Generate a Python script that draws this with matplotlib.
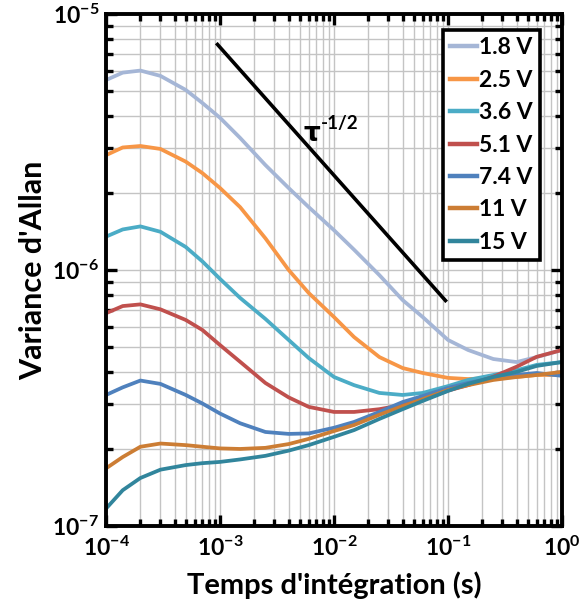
import matplotlib.pyplot as plt
from matplotlib.ticker import LogLocator, NullFormatter, FuncFormatter
import numpy as np

# Integrationstider (s)
tau = [1e-4, 1.4e-4, 2e-4, 3e-4, 5e-4, 7e-4, 1e-3, 1.5e-3, 2.5e-3, 4e-3, 6e-3,
       1e-2, 1.5e-2, 2.5e-2, 4e-2, 6e-2, 0.1, 0.15, 0.25, 0.4, 0.6, 1.0]

labels = ["1.8 V", "2.5 V", "3.6 V", "5.1 V", "7.4 V", "11 V", "15 V"]
colors = ["#a5b6d6", "#f79646", "#4bacc6", "#c0504d", "#4f81bd", "#cc7d34", "#31859c"]

# Allan-varians
v_1_8 = [5.52e-6, 5.90e-6, 6.01e-6, 5.73e-6, 5.05e-6, 4.49e-6, 3.93e-6, 3.28e-6, 2.57e-6, 2.09e-6, 1.76e-6,
         1.43e-6, 1.20e-6, 9.55e-7, 7.63e-7, 6.55e-7, 5.33e-7, 4.87e-7, 4.49e-7, 4.37e-7, 4.57e-7, 4.87e-7]
v_2_5 = [2.81e-6, 3.01e-6, 3.05e-6, 2.97e-6, 2.65e-6, 2.39e-6, 2.09e-6, 1.76e-6, 1.33e-6, 1.00e-6, 8.13e-7,
         6.55e-7, 5.47e-7, 4.57e-7, 4.14e-7, 3.96e-7, 3.79e-7, 3.75e-7, 3.79e-7, 3.82e-7, 3.89e-7, 3.89e-7]
v_3_6 = [1.35e-6, 1.44e-6, 1.48e-6, 1.41e-6, 1.23e-6, 1.08e-6, 9.23e-7, 7.78e-7, 6.44e-7, 5.33e-7, 4.53e-7,
         3.82e-7, 3.55e-7, 3.31e-7, 3.25e-7, 3.31e-7, 3.52e-7, 3.72e-7, 3.89e-7, 4.06e-7, 4.26e-7, 4.37e-7]
v_5_1 = [6.78e-7, 7.23e-7, 7.34e-7, 7.02e-7, 6.38e-7, 5.83e-7, 5.09e-7, 4.38e-7, 3.62e-7, 3.18e-7, 2.92e-7,
         2.79e-7, 2.79e-7, 2.86e-7, 2.97e-7, 3.11e-7, 3.38e-7, 3.55e-7, 3.83e-7, 4.19e-7, 4.58e-7, 4.87e-7]
v_7_4 = [3.25e-7, 3.48e-7, 3.70e-7, 3.59e-7, 3.25e-7, 3.01e-7, 2.75e-7, 2.52e-7, 2.33e-7, 2.29e-7, 2.30e-7,
         2.42e-7, 2.55e-7, 2.79e-7, 3.05e-7, 3.22e-7, 3.46e-7, 3.62e-7, 3.79e-7, 3.89e-7, 3.96e-7, 3.86e-7]
v_11 = [1.68e-7, 1.86e-7, 2.04e-7, 2.10e-7, 2.07e-7, 2.04e-7, 2.01e-7, 2.00e-7, 2.02e-7, 2.09e-7, 2.19e-7,
        2.35e-7, 2.48e-7, 2.72e-7, 2.94e-7, 3.13e-7, 3.40e-7, 3.55e-7, 3.72e-7, 3.82e-7, 3.89e-7, 4.00e-7]
v_15 = [1.17e-7, 1.38e-7, 1.54e-7, 1.66e-7, 1.73e-7, 1.76e-7, 1.78e-7, 1.82e-7, 1.88e-7, 1.97e-7, 2.07e-7,
        2.23e-7, 2.37e-7, 2.62e-7, 2.86e-7, 3.08e-7, 3.37e-7, 3.59e-7, 3.82e-7, 4.00e-7, 4.22e-7, 4.37e-7]
series = [v_1_8, v_2_5, v_3_6, v_5_1, v_7_4, v_11, v_15]

# Referencelinje tau^-1/2
ref_tau = [9.5e-4, 9.5e-2]
ref_val = [7.6e-6, 7.6e-7]

plt.rcParams['font.family'] = ['Lato', 'DejaVu Sans']
plt.rcParams['font.weight'] = 'bold'
plt.rcParams['mathtext.fontset'] = 'custom'
plt.rcParams['mathtext.rm'] = 'Lato:bold'
plt.rcParams['mathtext.bf'] = 'Lato:bold'
plt.rcParams['mathtext.it'] = 'Lato:bold'

fig = plt.figure(figsize=(5.86, 6.07), dpi=100)
ax = fig.add_axes([0.181, 0.1334, 0.778, 0.8436])

for vals, lab, col in zip(series, labels, colors):
    ax.plot(tau, vals, color=col, lw=2.7, label=lab, solid_joinstyle='round')

ax.plot(ref_tau, ref_val, color='black', lw=2.6)
# tau^-1/2 label
ax.text(0.434, 0.752, "τ", transform=ax.transAxes, fontsize=19,
        fontweight='bold', family='DejaVu Sans')
ax.text(0.471, 0.776, "-1/2", transform=ax.transAxes, fontsize=13.5, fontweight='bold')

ax.set_xscale('log')
ax.set_yscale('log')
ax.set_xlim(1e-4, 1)
ax.set_ylim(1e-7, 1e-5)


def pow_label(v, pos):
    return r"$\mathbf{10^{%d}}$" % int(round(np.log10(v)))


ax.xaxis.set_major_formatter(FuncFormatter(pow_label))
ax.yaxis.set_major_formatter(FuncFormatter(pow_label))

# Gitter og ticks
ax.xaxis.set_minor_locator(LogLocator(base=10, subs=range(2, 10), numticks=20))
ax.yaxis.set_minor_locator(LogLocator(base=10, subs=range(2, 10), numticks=20))
ax.xaxis.set_minor_formatter(NullFormatter())
ax.yaxis.set_minor_formatter(NullFormatter())
ax.grid(True, which='both', color='#c4c4c4', lw=1.0)
ax.set_axisbelow(True)
ax.tick_params(which='both', direction='in', top=True, right=True, width=2.4, labelsize=16.5)
ax.tick_params(which='major', length=8)
ax.tick_params(which='minor', length=5)
ax.tick_params(axis='x', pad=7)
ax.tick_params(axis='y', pad=5)
for side in ax.spines.values():
    side.set_linewidth(2.8)

ax.set_xlabel("Temps d'intégration (s)", fontsize=21, fontweight='bold', labelpad=8)
ax.set_ylabel("Variance d'Allan", fontsize=22, fontweight='bold', labelpad=4)

leg = ax.legend(loc='upper right', bbox_to_anchor=(0.952, 0.969), fontsize=16.5,
                handlelength=1.15, handletextpad=0.1, labelspacing=0.5,
                fancybox=False, framealpha=1, borderpad=0.32, borderaxespad=0)
leg.get_frame().set_edgecolor('black')
leg.get_frame().set_linewidth(2.6)
for line in leg.get_lines():
    line.set_linewidth(3.2)

plt.savefig("out.png", dpi=100)
